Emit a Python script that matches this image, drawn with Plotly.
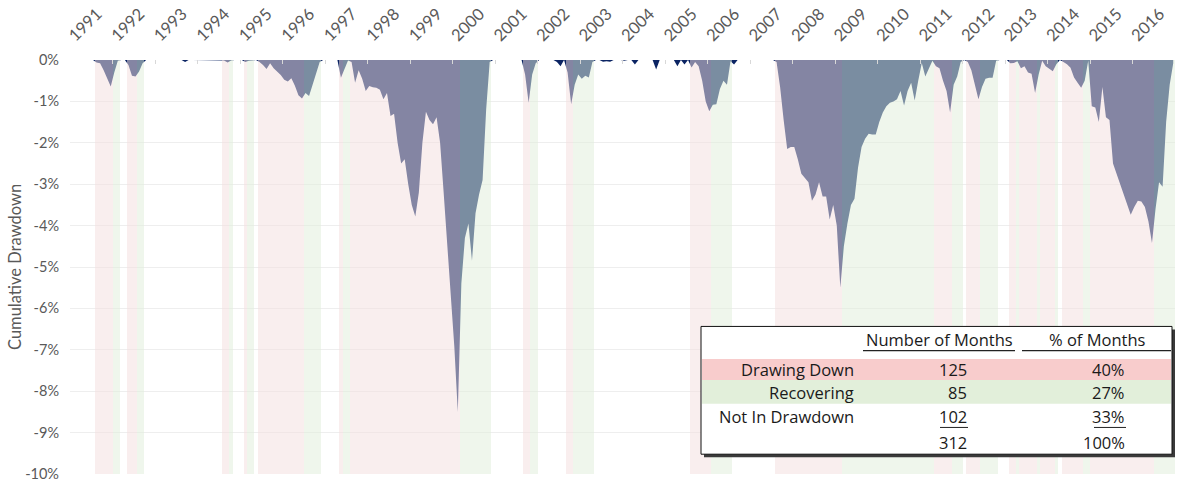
import plotly.graph_objects as go

# ---------------- data ----------------
years = [str(y) for y in range(1991, 2017)]

# monthly cumulative drawdown (%), Jan 1991 .. Dec 2016 (312 months), one row per year
drawdown = [
    0, 0, 0, 0, 0, 0, 0, -0.06, -0.08, -0.25, -0.45, -0.64,                 # 1991
    -0.3, -0.02, 0, 0, -0.12, -0.38, -0.40, -0.28, -0.08, 0, 0, 0,           # 1992
    0, 0, 0, 0, 0, 0, 0, 0, -0.05, 0, 0, 0,                                   # 1993
    0, 0, -0.01, 0, 0, 0, 0, -0.01, -0.06, -0.01, 0, 0,                       # 1994
    0, -0.05, -0.02, -0.01, 0, -0.05, -0.12, -0.22, -0.08, -0.2, -0.28, -0.36,  # 1995
    -0.48, -0.52, -0.44, -0.62, -0.85, -0.93, -0.8, -0.87, -0.6, -0.35, -0.05, 0,  # 1996
    0, 0, 0, 0, -0.43, -0.2, -0.01, -0.05, -0.55, -0.25, -0.45, -0.75,        # 1997
    -0.63, -0.66, -0.67, -0.72, -0.95, -0.8, -1.35, -1.3, -2.0, -2.5, -2.4, -3.0,  # 1998
    -3.5, -3.78, -3.2, -2.0, -1.25, -1.45, -1.55, -1.38, -2.0, -3.2, -4.4, -5.6,   # 1999
    -6.9, -8.5, -5.4, -4.3, -3.95, -4.85, -3.7, -3.25, -2.9, -1.2, -0.05, 0,       # 2000
    0, 0, 0, 0, 0, 0, 0, 0, -0.35, -1.03, -0.35, -0.08,                      # 2001
    0, 0, 0, 0, 0, -0.05, -0.15, 0, -0.3, -1.07, -0.6, -0.35,                # 2002
    -0.45, -0.38, -0.42, -0.05, 0, 0, -0.04, -0.03, -0.04, 0, 0, 0,          # 2003
    -0.02, 0, 0, -0.11, 0, 0, 0, 0, 0, -0.23, 0, 0,                          # 2004
    0, 0, 0, -0.15, 0, -0.11, 0, -0.18, -0.05, -0.15, -0.5, -1.0,            # 2005
    -1.24, -1.08, -1.07, -0.7, -0.5, -0.6, -0.03, -0.11, 0, 0, 0, 0,         # 2006
    0, 0, 0, 0, 0, 0, 0, -0.05, -0.65, -1.45, -2.15, -2.1,                   # 2007
    -2.1, -2.4, -2.75, -2.85, -2.95, -3.4, -3.25, -2.95, -3.3, -3.3, -3.85, -3.5,  # 2008
    -4.0, -5.5, -4.5, -3.95, -3.5, -3.35, -2.6, -2.1, -1.9, -1.78, -1.8, -1.8,     # 2009
    -1.5, -1.27, -1.12, -1.03, -1.0, -0.95, -0.75, -1.1, -0.75, -0.55, -0.98, -0.5,  # 2010
    -0.07, -0.4, -0.2, -0.02, -0.15, -0.2, -0.5, -0.75, -1.27, -0.6, -0.4, -0.05,    # 2011
    0, -0.05, -0.25, -0.6, -0.95, -0.65, -0.45, -0.43, -0.43, -0.02, 0, 0,          # 2012
    0, -0.08, -0.07, -0.03, -0.2, -0.15, -0.3, -0.33, -0.8, -0.35, -0.02, -0.15,    # 2013
    -0.2, -0.27, -0.1, 0, -0.05, -0.1, -0.19, -0.42, -0.55, -0.67, -0.5, -0.02,     # 2014
    -1.12, -1.15, -1.5, -0.65, -1.38, -1.45, -2.5, -2.75, -2.95, -3.2, -3.5, -3.74,  # 2015
    -3.55, -3.4, -3.42, -3.55, -3.9, -4.42, -3.6, -2.95, -3.06, -1.5, -0.6, -0.08,   # 2016
]

# shaded periods (first month index, last month index), month 0 = Jan 1991
drawing_down_periods = [(7, 11), (16, 18), (43, 44), (49, 49), (53, 65), (76, 76),
                        (79, 109), (128, 129), (140, 141), (175, 180), (199, 217),
                        (244, 248), (253, 256), (265, 266), (268, 272), (274, 277),
                        (280, 285), (288, 305)]
recovering_periods = [(12, 13), (19, 20), (45, 45), (50, 51), (66, 70), (77, 78),
                      (110, 118), (130, 131), (142, 147), (181, 186), (218, 243),
                      (249, 251), (257, 261), (267, 267), (273, 273), (278, 278),
                      (286, 287), (306, 311)]

y_ticks = list(range(-10, 1))

# summary table
table_headers = ["Number of Months", "% of Months"]
table_labels = ["Drawing Down", "Recovering", "Not In Drawdown"]
table_months = [125, 85, 102]
table_pcts = [40, 27, 33]

# ---------------- styles ----------------
NAVY = "#0b2463"
PINK = "rgba(244,222,222,0.52)"
GREEN = "rgba(225,237,218,0.52)"
TXT = "#595959"
W, H = 1179, 486
ML, MR, MT, MB = 70, 4, 60, 8
PW, PH = W - ML - MR, H - MT - MB


def px_x(p):
    return (p - ML) / PW


def px_y(p):
    return (H - MB - p) / PH


months = list(range(len(drawdown)))
fig = go.Figure()

fig.add_trace(go.Scatter(
    x=months, y=drawdown, mode="lines", fill="tozeroy",
    line=dict(width=0, color=NAVY), fillcolor=NAVY, hoverinfo="skip",
    showlegend=False))


def band_trace(periods, color):
    xs = [(a + b) / 2 for a, b in periods]
    ws = [b - a + 1 for a, b in periods]
    return go.Bar(x=xs, y=[1] * len(periods), width=ws, base=0,
                  marker=dict(color=color, line=dict(width=0)),
                  yaxis="y2", hoverinfo="skip", showlegend=False)


fig.add_trace(band_trace(drawing_down_periods, PINK))
fig.add_trace(band_trace(recovering_periods, GREEN))

fig.update_layout(
    width=W, height=H,
    margin=dict(l=ML, r=MR, t=MT, b=MB),
    paper_bgcolor="white", plot_bgcolor="white",
    barmode="overlay", bargap=0,
    font=dict(family="Lato, sans-serif", color=TXT),
    xaxis=dict(
        side="top", range=[-0.5, len(drawdown) - 0.5],
        tickvals=[12 * i - 0.5 for i in range(len(years))], ticktext=years,
        tickangle=-45, tickfont=dict(size=16.5, color=TXT),
        showgrid=False, zeroline=False, showline=False,
        ticks="inside", ticklen=4, tickcolor="#d8d8d8", tickwidth=1,
        ticklabelstandoff=11, ticklabeloverflow="allow",
    ),
    yaxis=dict(
        range=[-10, 0], tickvals=y_ticks,
        ticktext=[f"{v}%" for v in y_ticks],
        tickfont=dict(size=14.5, color=TXT),
        showgrid=True, gridcolor="#eeeeee", gridwidth=1,
        zeroline=False, showline=False, ticks="", ticklabelstandoff=10,
        ticklabeloverflow="allow",
    ),
    yaxis2=dict(overlaying="y", range=[0, 1], visible=False),
)

fig.add_annotation(xref="paper", yref="paper", x=px_x(15), y=0.5,
                   text="Cumulative Drawdown", textangle=-90, showarrow=False,
                   font=dict(size=16.5, color=TXT), xanchor="center", yanchor="middle")

# ---------------- table ----------------
shapes = []
bx0, bx1, by0, by1 = 701, 1172, 329, 458
shapes.append(dict(type="rect", xref="paper", yref="paper",
                   x0=px_x(bx0 + 3), x1=px_x(bx1 + 3), y0=px_y(by1 + 3), y1=px_y(by0 + 3),
                   fillcolor="#3a3a3a", line=dict(width=0)))
shapes.append(dict(type="rect", xref="paper", yref="paper",
                   x0=px_x(bx0), x1=px_x(bx1), y0=px_y(by1), y1=px_y(by0),
                   fillcolor="white", line=dict(color="#111111", width=1)))
row_colors = ["#f8cccc", "#e2efda"]
row_bounds = [(362, 383), (383, 407)]
for (t, b), c in zip(row_bounds, row_colors):
    shapes.append(dict(type="rect", xref="paper", yref="paper",
                       x0=px_x(bx0 + 1), x1=px_x(bx1 - 1), y0=px_y(b), y1=px_y(t),
                       fillcolor=c, line=dict(width=0)))
# header underlines
for a, b in [(863, 1015), (1022, 1171)]:
    shapes.append(dict(type="line", xref="paper", yref="paper",
                       x0=px_x(a), x1=px_x(b), y0=px_y(353.5), y1=px_y(353.5),
                       line=dict(color="#222222", width=1.3)))
# subtotal underlines
for a, b in [(940, 968), (1094, 1126)]:
    shapes.append(dict(type="line", xref="paper", yref="paper",
                       x0=px_x(a), x1=px_x(b), y0=px_y(431), y1=px_y(431),
                       line=dict(color="#222222", width=1)))
fig.update_layout(shapes=shapes)

TF = dict(family="Open Sans, sans-serif", size=16.5, color="#1a1a1a")
fig.add_annotation(xref="paper", yref="paper", x=px_x(939), y=px_y(342),
                   text=table_headers[0], showarrow=False, font=TF,
                   xanchor="center", yanchor="middle")
fig.add_annotation(xref="paper", yref="paper", x=px_x(1097), y=px_y(342),
                   text=table_headers[1], showarrow=False, font=TF,
                   xanchor="center", yanchor="middle")
row_y = [372.5, 396, 420]
for lab, m, p, yy in zip(table_labels, table_months, table_pcts, row_y):
    fig.add_annotation(xref="paper", yref="paper", x=px_x(856), y=px_y(yy),
                       text=lab, showarrow=False, font=TF, xanchor="right", yanchor="middle")
    fig.add_annotation(xref="paper", yref="paper", x=px_x(969), y=px_y(yy),
                       text=str(m), showarrow=False, font=TF, xanchor="right", yanchor="middle")
    fig.add_annotation(xref="paper", yref="paper", x=px_x(1127), y=px_y(yy),
                       text=f"{p}%", showarrow=False, font=TF, xanchor="right", yanchor="middle")
fig.add_annotation(xref="paper", yref="paper", x=px_x(969), y=px_y(446),
                   text=str(sum(table_months)), showarrow=False, font=TF,
                   xanchor="right", yanchor="middle")
fig.add_annotation(xref="paper", yref="paper", x=px_x(1127), y=px_y(446),
                   text=f"{sum(table_pcts)}%", showarrow=False, font=TF,
                   xanchor="right", yanchor="middle")

fig.write_html("out.html")
